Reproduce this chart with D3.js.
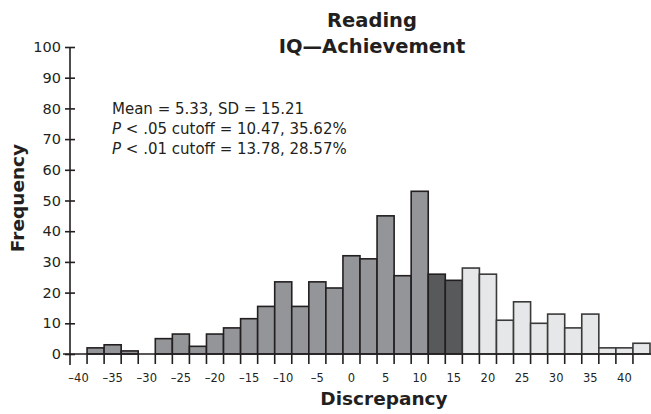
<!DOCTYPE html>
<html>
<head>
<meta charset="utf-8">
<script src="https://cdn.jsdelivr.net/npm/d3@7"></script>
<style>
  body { margin: 0; background: #fff; }
  svg text { font-family: "DejaVu Sans", sans-serif; fill: #231f20; }
</style>
</head>
<body>
<div id="main"></div>
<script>
// bin centres (width 2.5) and frequencies
var binCenters = [-40, -37.5, -35, -32.5, -30, -27.5, -25, -22.5, -20, -17.5, -15, -12.5, -10, -7.5, -5, -2.5,
  0, 2.5, 5, 7.5, 10, 12.5, 15, 17.5, 20, 22.5, 25, 27.5, 30, 32.5, 35, 37.5, 40, 42.5];
var freq = [0, 2, 3, 1, 0, 5, 6.5, 2.5, 6.5, 8.5, 11.5, 15.5, 23.5, 15.5, 23.5, 21.5,
  32, 31, 45, 25.5, 53, 26, 24, 28, 26, 11, 17, 10, 13, 8.5, 13, 2, 2, 3.5];
var darkBins = [12.5, 15];   // between the two cutoffs
var lightFrom = 17.5;        // beyond the .01 cutoff
var xLabels = [-40, -35, -30, -25, -20, -15, -10, -5, 0, 5, 10, 15, 20, 25, 30, 35, 40];
var yTicks = [0, 10, 20, 30, 40, 50, 60, 70, 80, 90, 100];
var statLines = [
  ["", "Mean = 5.33, SD = 15.21"],
  ["P", " < .05 cutoff = 10.47, 35.62%"],
  ["P", " < .01 cutoff = 13.78, 28.57%"]
];

var W = 651, H = 414, binW = 2.5;
var ink = "#231f20";

var x = d3.scaleLinear().domain([-41.25, 43.75]).range([70, 650]);
var y = d3.scaleLinear().domain([0, 100]).range([354, 47]);

var svg = d3.select("#main").append("svg")
  .attr("width", W)
  .attr("height", H);

function shade(c) {
  if (darkBins.includes(c)) return "#58595b";
  if (c >= lightFrom) return "#e6e7e8";
  return "#939598";
}

var data = binCenters.map(function (c, i) { return { c: c, f: freq[i] }; });

// bars
svg.append("g")
  .selectAll("rect")
  .data(data.filter(function (d) { return d.f > 0; }))
  .enter().append("rect")
  .attr("x", function (d) { return x(d.c - binW / 2); })
  .attr("width", function (d) { return x(d.c + binW / 2) - x(d.c - binW / 2); })
  .attr("y", function (d) { return y(d.f); })
  .attr("height", function (d) { return y(0) - y(d.f); })
  .attr("fill", function (d) { return shade(d.c); })
  .attr("stroke", function (d) { return d.c >= lightFrom ? "#3a3a3a" : ink; })
  .attr("stroke-width", 1.6);

// x axis: baseline + ticks at bin edges
svg.append("line")
  .attr("x1", 63).attr("x2", W)
  .attr("y1", y(0)).attr("y2", y(0))
  .attr("stroke", ink).attr("stroke-width", 1.6);

svg.append("g")
  .selectAll("line")
  .data(binCenters.slice(0, -1))
  .enter().append("line")
  .attr("x1", function (d) { return x(d + binW / 2); })
  .attr("x2", function (d) { return x(d + binW / 2); })
  .attr("y1", y(0)).attr("y2", y(0) + 10)
  .attr("stroke", ink).attr("stroke-width", 1.6);

svg.append("g")
  .selectAll("text")
  .data(xLabels)
  .enter().append("text")
  .attr("x", function (d) { return x(d); })
  .attr("y", 382)
  .attr("text-anchor", "middle")
  .style("font-size", "11.5px")
  .text(function (d) { return d < 0 ? "\u2013" + Math.abs(d) : d; });

// y axis
var yAxis = d3.axisLeft(y)
  .tickValues(yTicks)
  .tickSize(6)
  .tickPadding(5);

var gy = svg.append("g")
  .attr("transform", "translate(70,0)")
  .call(yAxis);
gy.select(".domain").remove();
gy.selectAll(".tick line").attr("x2", 5).attr("x1", -5).attr("stroke", ink).attr("stroke-width", 1.6);
gy.selectAll(".tick text")
  .attr("x", -9)
  .style("font-size", "14.5px")
  .style("font-family", "'DejaVu Sans', sans-serif")
  .attr("fill", ink);

svg.append("line")
  .attr("x1", 70).attr("x2", 70)
  .attr("y1", y(100)).attr("y2", y(0) + 11)
  .attr("stroke", ink).attr("stroke-width", 1.6);

// titles
svg.append("text")
  .attr("x", 372).attr("y", 27)
  .attr("text-anchor", "middle")
  .style("font-size", "19.5px").style("font-weight", "bold")
  .text("Reading");
svg.append("text")
  .attr("x", 372).attr("y", 53)
  .attr("text-anchor", "middle")
  .style("font-size", "19.5px").style("font-weight", "bold")
  .text("IQ\u2014Achievement");

svg.append("text")
  .attr("x", 384).attr("y", 405)
  .attr("text-anchor", "middle")
  .style("font-size", "18.5px").style("font-weight", "bold")
  .text("Discrepancy");

svg.append("text")
  .attr("transform", "translate(24,198) rotate(-90)")
  .attr("text-anchor", "middle")
  .style("font-size", "18.5px").style("font-weight", "bold")
  .text("Frequency");

// stats block
var stats = svg.append("g").selectAll("text")
  .data(statLines)
  .enter().append("text")
  .attr("x", 112)
  .attr("y", function (d, i) { return 114 + i * 20; })
  .style("font-size", "15px");
stats.append("tspan")
  .style("font-style", "italic")
  .text(function (d) { return d[0]; });
stats.append("tspan")
  .text(function (d) { return d[1]; });
</script>
</body>
</html>
